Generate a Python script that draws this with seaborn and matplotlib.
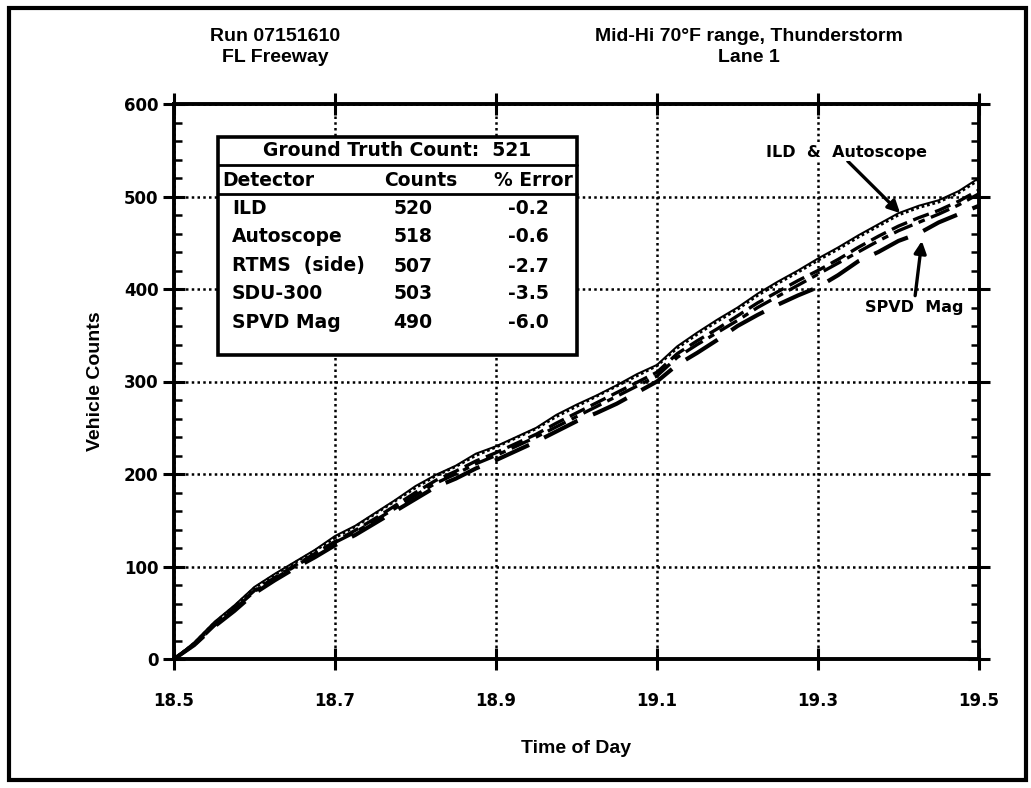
import matplotlib
matplotlib.use("Agg")
import matplotlib.pyplot as plt
import matplotlib.patches as mpatches
from matplotlib.ticker import MultipleLocator, NullLocator, FixedLocator
import seaborn as sns
import pandas as pd

# ---------------- data ----------------
time_of_day = [18.500, 18.525, 18.550, 18.575, 18.600, 18.625, 18.650, 18.675, 18.700, 18.725,
               18.750, 18.775, 18.800, 18.825, 18.850, 18.875, 18.900, 18.925, 18.950, 18.975,
               19.000, 19.025, 19.050, 19.075, 19.100, 19.125, 19.150, 19.175, 19.200, 19.225,
               19.250, 19.275, 19.300, 19.325, 19.350, 19.375, 19.400, 19.425, 19.450, 19.475,
               19.500]
ild = [0, 18, 40, 58, 78, 92, 105, 118, 133, 144, 158, 172, 187, 199, 209, 222, 230, 240, 250, 264,
       275, 285, 296, 308, 318, 338, 353, 367, 380, 395, 408, 420, 433, 445, 458, 470, 482, 490, 496,
       506, 520]
autoscope = [0, 17, 39, 57, 77, 91, 104, 117, 131, 143, 157, 171, 185, 198, 208, 220, 229, 239, 249,
             262, 273, 284, 295, 306, 317, 336, 351, 365, 378, 393, 406, 418, 431, 443, 456, 468, 480,
             488, 494, 504, 518]
rtms_side = [0, 16, 37, 55, 74, 88, 101, 114, 127, 139, 152, 166, 180, 193, 203, 214, 223, 233, 243,
             255, 266, 277, 288, 299, 310, 330, 344, 357, 371, 385, 397, 409, 420, 432, 445, 457, 468,
             477, 485, 495, 507]
sdu_300 = [0, 15, 36, 54, 73, 87, 100, 113, 126, 137, 150, 163, 177, 190, 200, 211, 220, 230, 240,
           251, 262, 273, 284, 295, 306, 326, 340, 353, 366, 380, 392, 404, 416, 428, 440, 452, 463,
           472, 481, 491, 503]
spvd_mag = [0, 15, 35, 52, 71, 85, 98, 110, 123, 134, 147, 160, 173, 186, 195, 206, 215, 225, 235,
            246, 257, 266, 276, 288, 300, 318, 331, 345, 360, 372, 383, 393, 402, 415, 430, 440, 452,
            460, 472, 481, 490]

series_names = ["ILD", "Autoscope", "RTMS (side)", "SDU-300", "SPVD Mag"]
series_values = [ild, autoscope, rtms_side, sdu_300, spvd_mag]

ground_truth = 521
table_detectors = ["ILD", "Autoscope", "RTMS  (side)", "SDU-300", "SPVD Mag"]
table_counts = ["520", "518", "507", "503", "490"]
table_errors = ["-0.2", "-0.6", "-2.7", "-3.5", "-6.0"]

x_ticks = [18.5, 18.7, 18.9, 19.1, 19.3, 19.5]
x_tick_labels = ["18.5", "18.7", "18.9", "19.1", "19.3", "19.5"]
y_ticks = [0, 100, 200, 300, 400, 500, 600]
y_tick_labels = ["0", "100", "200", "300", "400", "500", "600"]

# ---------------- style ----------------
sns.set_style("ticks")
plt.rcParams["font.family"] = ["DejaVu Sans"]
plt.rcParams["font.weight"] = "bold"
plt.rcParams["text.color"] = "black"
plt.rcParams["axes.labelcolor"] = "black"
plt.rcParams["xtick.color"] = "black"
plt.rcParams["ytick.color"] = "black"
plt.rcParams["axes.edgecolor"] = "black"

W, H = 1031, 788
fig = plt.figure(figsize=(W / 100, H / 100), dpi=100)
fig.patch.set_facecolor("white")

def fx(px):
    return px / W

def fy(py):
    return 1 - py / H

ax_left, ax_right, ax_top, ax_bottom = 174, 979, 104, 659
ax = fig.add_axes([fx(ax_left), fy(ax_bottom), fx(ax_right) - fx(ax_left), fy(ax_top) - fy(ax_bottom)])

records = []
for name, vals in zip(series_names, series_values):
    for t, v in zip(time_of_day, vals):
        records.append({"Time of Day": t, "Vehicle Counts": v, "Detector": name})
df = pd.DataFrame(records)

styles = {
    "ILD": dict(linestyle="-", linewidth=1.4),
    "Autoscope": dict(linestyle=(0, (1, 1)), linewidth=2.0),
    "RTMS (side)": dict(linestyle=(0, (5, 2)), linewidth=2.4),
    "SDU-300": dict(linestyle=(0, (6, 2, 2, 2)), linewidth=2.4),
    "SPVD Mag": dict(linestyle=(0, (9, 4)), linewidth=3.0),
}
for name in series_names:
    sub = df[df["Detector"] == name]
    sns.lineplot(data=sub, x="Time of Day", y="Vehicle Counts", ax=ax, color="black",
                 legend=False, zorder=3, **styles[name])

ax.set_xlim(18.5, 19.5)
ax.set_ylim(0, 600)
ax.xaxis.set_major_locator(FixedLocator(x_ticks))
ax.set_xticklabels(x_tick_labels)
ax.yaxis.set_major_locator(FixedLocator(y_ticks))
ax.set_yticklabels(y_tick_labels)
ax.xaxis.set_minor_locator(NullLocator())
ax.yaxis.set_minor_locator(MultipleLocator(20))

ax.grid(True, which="major", linestyle=(0, (1, 1.3)), color="black", linewidth=1.8, zorder=1)
for s in ax.spines.values():
    s.set_linewidth(2.8)
    s.set_visible(True)
    s.set_color("black")

ax.tick_params(which="major", direction="inout", length=16, width=2.2, top=True, right=True,
               labelsize=12, colors="black")
ax.tick_params(axis="x", which="major", pad=16)
ax.tick_params(axis="y", which="major", pad=3)
ax.tick_params(which="minor", direction="in", length=6, width=1.8, left=True, right=True, colors="black")
for lab in ax.get_xticklabels() + ax.get_yticklabels():
    lab.set_fontweight("bold")
    lab.set_color("black")

tfam = ["Liberation Sans", "DejaVu Sans"]
ax.set_xlabel("Time of Day", fontsize=14, fontweight="bold", family=tfam, va="center", color="black")
ax.set_ylabel("Vehicle Counts", fontsize=14, fontweight="bold", family=tfam, va="center", color="black")
ax.xaxis.set_label_coords(0.5, -0.162)
ax.yaxis.set_label_coords(-0.098, 0.5)

# titles
fig.text(fx(275), fy(47), "Run 07151610\nFL Freeway", ha="center", va="center", fontsize=14,
         fontweight="bold", family=tfam, linespacing=1.25, color="black")
fig.text(fx(749), fy(47), "Mid-Hi 70\u00b0F range, Thunderstorm\nLane 1", ha="center", va="center",
         fontsize=14, fontweight="bold", family=tfam, linespacing=1.25, color="black")

# table
bx0, bx1, by0, by1 = 218, 577, 137, 355
fig.add_artist(mpatches.Rectangle((fx(bx0), fy(by1)), fx(bx1) - fx(bx0), fy(by0) - fy(by1),
                                  transform=fig.transFigure, facecolor="white", edgecolor="black",
                                  linewidth=2.6, zorder=5))
for sep in (165, 194):
    fig.add_artist(plt.Line2D([fx(bx0), fx(bx1)], [fy(sep), fy(sep)], transform=fig.transFigure,
                              color="black", linewidth=2.0, zorder=6))
fig.text(fx((bx0 + bx1) / 2), fy(151), f"Ground Truth Count:  {ground_truth}", ha="center", va="center",
         fontsize=13.5, zorder=7, color="black")
fig.text(fx(222), fy(180), "Detector", ha="left", va="center", fontsize=13.5, zorder=7, color="black")
fig.text(fx(384), fy(180), "Counts", ha="left", va="center", fontsize=13.5, zorder=7, color="black")
fig.text(fx(573), fy(180), "% Error", ha="right", va="center", fontsize=13.5, zorder=7, color="black")
row_y = [209, 237, 266, 294, 323]
for ry, d, c, e in zip(row_y, table_detectors, table_counts, table_errors):
    fig.text(fx(232), fy(ry), d, ha="left", va="center", fontsize=13.5, zorder=7, color="black")
    fig.text(fx(413), fy(ry), c, ha="center", va="center", fontsize=13.5, zorder=7, color="black")
    fig.text(fx(528), fy(ry), e, ha="center", va="center", fontsize=13.5, zorder=7, color="black")

# annotations
ax.annotate("ILD  &  Autoscope", xy=(19.402, 482), xytext=(19.335, 548), textcoords="data",
            ha="center", va="center", fontsize=11.5, fontweight="bold", color="black",
            bbox=dict(boxstyle="square,pad=0.1", facecolor="white", edgecolor="none"),
            arrowprops=dict(arrowstyle="-|>", color="black", lw=2.4, mutation_scale=18,
                            shrinkA=0, shrinkB=0, relpos=(0.5, 0.0)), zorder=6)
ax.annotate("SPVD  Mag", xy=(19.429, 452), xytext=(19.42, 380), textcoords="data",
            ha="center", va="center", fontsize=11.5, fontweight="bold", color="black",
            bbox=dict(boxstyle="square,pad=0.1", facecolor="white", edgecolor="none"),
            arrowprops=dict(arrowstyle="-|>", color="black", lw=2.4, mutation_scale=18,
                            shrinkA=2, shrinkB=0, relpos=(0.5, 1.0)), zorder=6)

# outer frame
fig.add_artist(mpatches.Rectangle((fx(9), fy(780)), fx(1026) - fx(9), fy(8) - fy(780),
                                  transform=fig.transFigure, facecolor="none", edgecolor="black",
                                  linewidth=3.0, zorder=10))

fig.savefig("out.png", dpi=100)
